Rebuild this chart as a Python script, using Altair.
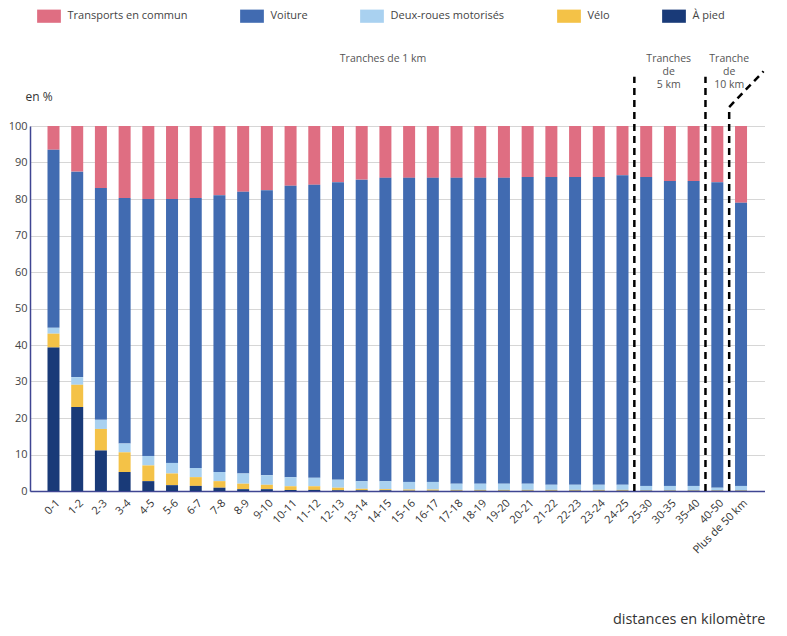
import altair as alt
import pandas as pd

categories = ["0-1", "1-2", "2-3", "3-4", "4-5", "5-6", "6-7", "7-8", "8-9", "9-10",
              "10-11", "11-12", "12-13", "13-14", "14-15", "15-16", "16-17", "17-18", "18-19", "19-20",
              "20-21", "21-22", "22-23", "23-24", "24-25", "25-30", "30-35", "35-40", "40-50", "Plus de 50 km"]

a_pied = [39.3, 23.0, 11.1, 5.2, 2.7, 1.6, 1.4, 0.9, 0.5, 0.5,
          0.3, 0.3, 0.2, 0.2, 0.2, 0.1, 0.1, 0.1, 0.1, 0.1,
          0.1, 0.1, 0.1, 0.1, 0.1, 0.1, 0.1, 0.1, 0.1, 0.1]
velo = [3.8, 6.1, 5.9, 5.4, 4.3, 3.2, 2.4, 1.8, 1.5, 1.2,
        1.0, 1.0, 0.7, 0.4, 0.3, 0.3, 0.3, 0.2, 0.2, 0.2,
        0.2, 0.2, 0.2, 0.2, 0.2, 0.1, 0.1, 0.1, 0.1, 0.1]
deux_roues = [1.6, 2.1, 2.5, 2.4, 2.6, 2.9, 2.5, 2.5, 2.8, 2.6,
              2.5, 2.3, 2.2, 2.1, 2.2, 2.1, 2.1, 1.7, 1.7, 1.7,
              1.7, 1.4, 1.4, 1.4, 1.4, 1.2, 1.2, 1.2, 0.7, 1.2]
voiture = [48.8, 56.3, 63.5, 67.3, 70.4, 72.3, 74.0, 75.8, 77.2, 78.1,
           79.8, 80.3, 81.5, 82.6, 83.1, 83.3, 83.3, 83.8, 83.8, 83.8,
           84.0, 84.3, 84.3, 84.3, 84.8, 84.6, 83.5, 83.5, 83.7, 77.6]
transports = [6.5, 12.5, 17.0, 19.7, 20.0, 20.0, 19.7, 19.0, 18.0, 17.6,
              16.4, 16.1, 15.4, 14.7, 14.2, 14.2, 14.2, 14.2, 14.2, 14.2,
              14.0, 14.0, 14.0, 14.0, 13.5, 14.0, 15.1, 15.1, 15.4, 21.0]

modes = ["Transports en commun", "Voiture", "Deux-roues motorisés", "Vélo", "À pied"]
colors = ["#DF6E82", "#416BB1", "#A9D1F0", "#F4C247", "#193A78"]
series = [transports, voiture, deux_roues, velo, a_pied]
stack_order = [4, 3, 2, 1, 0]

# separators (x in category index units, y in %)
sep_x = [24.5, 27.5, 28.5, 28.5]
sep_x2 = [24.5, 27.5, 28.5, 29.95]
sep_y = [0, 0, 0, 105.2]
sep_y2 = [113.5, 113.5, 105.2, 115.0]

ann_text = ["Tranches de 1 km", "Tranches\nde\n5 km", "Tranche\nde\n10 km"]
ann_x = [13.9, 25.95, 28.5]
ann_y = [118.4, 118.4, 118.4]

rows = []
for m, vals, o in zip(modes, series, stack_order):
    for i, (c, v) in enumerate(zip(categories, vals)):
        rows.append({"idx": i, "cat": c, "mode": m, "value": v, "ord": o})
df = pd.DataFrame(rows)
sep_df = pd.DataFrame({"x": sep_x, "x2": sep_x2, "y": sep_y, "y2": sep_y2})
ann_df = pd.DataFrame({"x": ann_x, "y": ann_y, "t": ann_text})

label_expr = "[" + ",".join("'" + c + "'" for c in categories) + "][datum.value]"

x_scale = alt.Scale(domain=[-0.78, 29.8], nice=False, zero=False)
y_scale = alt.Scale(domain=[0, 100], nice=False)

axis_color = "#3F4592"
W = 735

x_axis = alt.Axis(values=list(range(len(categories))), labelExpr=label_expr,
                  labelAngle=-45, grid=False, ticks=False, domainColor=axis_color,
                  domainWidth=1.5, labelFontSize=11, labelColor="#333333", labelPadding=6,
                  labelOverlap=False,
                  title="distances en kilomètre", titleFontSize=14.5, titleFontWeight="normal",
                  titleColor="#333333", titleX=W, titleY=132, titleAlign="right",
                  titleBaseline="alphabetic", titleAnchor="end")
y_axis = alt.Axis(values=list(range(0, 101, 10)), grid=True, gridColor="#D6D6D6",
                  ticks=False, domainColor=axis_color, domainWidth=1.5, labelFontSize=11,
                  labelColor="#444444", labelPadding=3, labelOverlap=False,
                  title="en %", titleAngle=0, titleX=-5, titleY=-23, titleAlign="left",
                  titleFontSize=12, titleFontWeight="normal", titleColor="#333333")

bars = alt.Chart(df).mark_bar(width=12).encode(
    x=alt.X("idx:Q", scale=x_scale, axis=x_axis),
    y=alt.Y("value:Q", stack="zero", scale=y_scale, axis=y_axis),
    color=alt.Color("mode:N", scale=alt.Scale(domain=modes, range=colors),
                    legend=alt.Legend(orient="none", legendX=12, legendY=-117, direction="horizontal",
                                      title=None, symbolType="M-1.8,-1L1.8,-1L1.8,1L-1.8,1Z",
                                      symbolSize=174, symbolStrokeWidth=0, symbolOpacity=1,
                                      labelFontSize=11, labelColor="#444444", labelOffset=11.5,
                                      columnPadding=52, labelLimit=300, padding=0)),
    order=alt.Order("ord:Q"),
)

rules = alt.Chart(sep_df).mark_rule(color="black", strokeWidth=2.5, strokeDash=[7, 5]).encode(
    x=alt.X("x:Q", scale=x_scale, axis=x_axis),
    x2="x2:Q",
    y=alt.Y("y:Q", scale=y_scale, axis=y_axis),
    y2="y2:Q",
)

texts = alt.Chart(ann_df).mark_text(fontSize=10.5, color="#555555", lineBreak="\n", lineHeight=13,
                                    align="center", baseline="middle").encode(
    x=alt.X("x:Q", scale=x_scale, axis=x_axis),
    y=alt.Y("y:Q", scale=y_scale, axis=y_axis),
    text="t:N",
)

chart = alt.layer(bars, rules, texts).properties(
    width=W, height=365, padding={"left": 0, "top": 1, "right": 0, "bottom": 0}
).configure_view(strokeWidth=0, stroke="transparent").configure(font="Open Sans")

chart.save("out.html", embed_options={"renderer": "svg", "actions": False})
